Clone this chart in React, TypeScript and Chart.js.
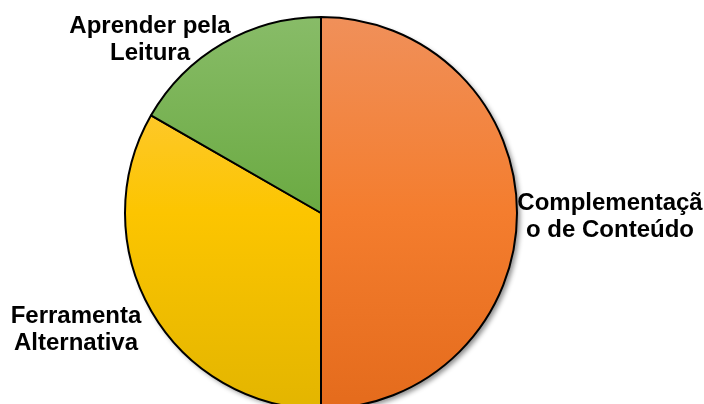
import React, { useEffect, useRef } from "react";
import { Chart, registerables } from "chart.js";

Chart.register(...registerables);

const categories: string[][] = [
  ["Complementaçã", "o de Conteúdo"],
  ["Ferramenta", "Alternativa"],
  ["Aprender pela", "Leitura"],
];
const values: number[] = [50, 33.3, 16.7];

// gradient colour stops (top, middle, bottom) per slice
const gradientStops: string[][] = [
  ["#F0905A", "#F47D2E", "#E46B1C"],
  ["#FFCB52", "#FCC500", "#E3B500"],
  ["#88BC68", "#6BAA42", "#5A9A33"],
];

// label anchors (centre x, first baseline y)
const labelLayout = [
  { x: 610, y: 210 },
  { x: 76, y: 323 },
  { x: 150, y: 33 },
];

const W = 704;
const H = 430;

export default function App() {
  const ref = useRef<HTMLCanvasElement | null>(null);

  useEffect(() => {
    if (!ref.current) return;
    const shadowPlugin = {
      id: "pieShadow",
      beforeDatasetsDraw(chart: any) {
        const meta = chart.getDatasetMeta(0);
        const arc = meta.data[0];
        if (!arc) return;
        const { x, y, outerRadius } = arc.getProps(["x", "y", "outerRadius"], true);
        const ctx = chart.ctx;
        ctx.save();
        ctx.shadowColor = "rgba(0,0,0,0.45)";
        ctx.shadowBlur = 5;
        ctx.shadowOffsetX = 3;
        ctx.shadowOffsetY = 3;
        ctx.beginPath();
        ctx.arc(x, y, outerRadius, 0, Math.PI * 2);
        ctx.fillStyle = "#ffffff";
        ctx.fill();
        ctx.restore();
      },
    };
    const labelPlugin = {
      id: "outsideLabels",
      afterDraw(chart: any) {
        const ctx = chart.ctx;
        ctx.save();
        ctx.fillStyle = "#000000";
        ctx.font = "bold 24px 'Liberation Sans', Arial, sans-serif";
        ctx.textBaseline = "alphabetic";
        ctx.textAlign = "center";
        categories.forEach((lines, i) => {
          const l = labelLayout[i];
          lines.forEach((t, j) => ctx.fillText(t, l.x, l.y + j * 27));
        });
        ctx.restore();
      },
    };
    const chart = new Chart(ref.current, {
      type: "pie",
      data: {
        labels: categories.map((c) => c.join("")),
        datasets: [
          {
            data: values,
            backgroundColor: (c: any) => {
              const ch = c.chart;
              const area = ch.chartArea;
              if (!area) return gradientStops[c.dataIndex][1];
              const g = ch.ctx.createLinearGradient(0, area.top, 0, area.bottom);
              const s = gradientStops[c.dataIndex];
              g.addColorStop(0, s[0]);
              g.addColorStop(0.5, s[1]);
              g.addColorStop(1, s[2]);
              return g;
            },
            borderColor: "#000000",
            borderWidth: 2,
          },
        ],
      },
      options: {
        responsive: false,
        animation: false,
        devicePixelRatio: 1,
        layout: { padding: { left: 124, right: 186, top: 16, bottom: 20 } },
        plugins: {
          legend: { display: false },
          tooltip: { enabled: false },
        },
      },
      plugins: [shadowPlugin, labelPlugin],
    });
    return () => chart.destroy();
  }, []);

  return (
    <div
      style={{
        position: "fixed",
        left: 0,
        top: 0,
        width: W,
        height: 404,
        overflow: "hidden",
        background: "#ffffff",
      }}
    >
      <canvas ref={ref} width={W} height={H} style={{ display: "block", width: W, height: H }} />
    </div>
  );
}
